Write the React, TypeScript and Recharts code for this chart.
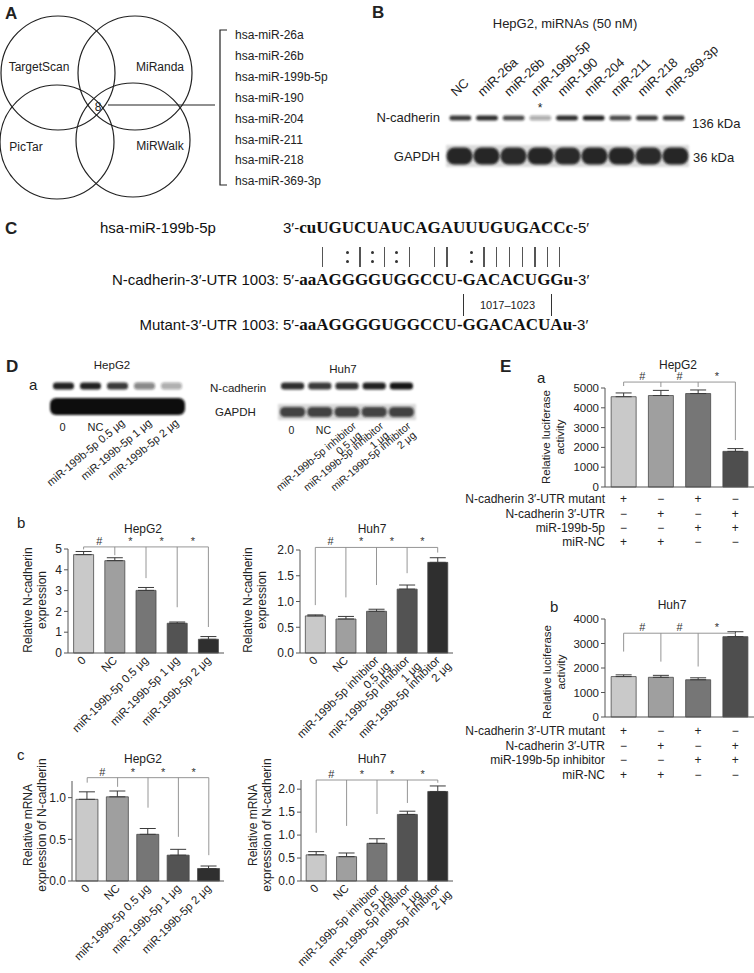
import React from "react";
import { BarChart, Bar, XAxis, YAxis, Cell, ErrorBar, ReferenceLine, ReferenceDot } from "recharts";

const FONT = '"Liberation Sans", Arial, Helvetica, sans-serif';
const SERIF = '"Liberation Serif", "Times New Roman", serif';
const AXIS = "#555";
const LINK = "#8a8a8a";

// A: prediction overlap
const predictionTools = ["TargetScan", "MiRanda", "PicTar", "MiRWalk"];
const sharedCount = "8";
const candidateMirnas = [
  "hsa-miR-26a", "hsa-miR-26b", "hsa-miR-199b-5p", "hsa-miR-190",
  "hsa-miR-204", "hsa-miR-211", "hsa-miR-218", "hsa-miR-369-3p",
];

// B: screening blot (band darkness per lane)
const screenLanes = ["NC", "miR-26a", "miR-26b", "miR-199b-5p", "miR-190", "miR-204", "miR-211", "miR-218", "miR-369-3p"];
const screenNcadBand = [0.85, 0.9, 0.75, 0.35, 0.9, 0.95, 0.75, 0.85, 0.85];
const screenGapdhBand = [0.92, 0.92, 0.9, 0.92, 0.9, 0.92, 0.92, 0.9, 0.92];

// C: sequences
const mirSeq = "cuUGUCUAUCAGAUUUGUGACCc";
const pairMarks = "  | :|:|:| || :||||||| ";
const ncadSeqParts = ["aaAGGGGUGGCCU-", "GACACUG", "Gu"];
const mutantSeq = "aaAGGGGUGGCCU-GGACACUAu";
const seedRange = "1017–1023";

// D: groups
const hepg2Doses = ["0", "NC", "miR-199b-5p 0.5 μg", "miR-199b-5p 1 μg", "miR-199b-5p 2 μg"];
const huh7Doses = ["0", "NC", "miR-199b-5p inhibitor\n0.5 μg", "miR-199b-5p inhibitor\n1 μg", "miR-199b-5p inhibitor\n2 μg"];
const hepg2NcadBand = [0.95, 0.95, 0.85, 0.5, 0.35];
const huh7NcadBand = [0.9, 0.85, 0.88, 0.95, 1];
const huh7GapdhBand = [0.75, 0.75, 0.75, 0.78, 0.75];

const hepg2Protein = [4.73, 4.44, 3.01, 1.43, 0.66];
const hepg2ProteinErr = [0.15, 0.14, 0.14, 0.06, 0.13];
const hepg2ProteinDrops = [4.98, 4.7, 3.6, 2.2, 1.25];
const hepg2ProteinBracket = 5.1;

const huh7Protein = [0.72, 0.66, 0.81, 1.24, 1.76];
const huh7ProteinErr = [0.02, 0.05, 0.04, 0.08, 0.09];
const huh7ProteinDrops = [0.93, 1.08, 1.32, 1.55, 1.95];
const huh7ProteinBracket = 2.05;

const hepg2Mrna = [0.98, 1.01, 0.56, 0.31, 0.15];
const hepg2MrnaErr = [0.09, 0.07, 0.07, 0.07, 0.03];
const hepg2MrnaDrops = [1.18, 1.13, 0.88, 0.53, 0.31];
const hepg2MrnaBracket = 1.24;

const huh7Mrna = [0.57, 0.53, 0.82, 1.45, 1.95];
const huh7MrnaErr = [0.07, 0.08, 0.1, 0.07, 0.12];
const huh7MrnaDrops = [1.05, 1.2, 1.46, 1.7, 2.14];
const huh7MrnaBracket = 2.2;

const doseMarks = ["#", "*", "*", "*"];

// E: luciferase
const lucGroups = ["g1", "g2", "g3", "g4"];
const hepg2Luc = [4560, 4620, 4720, 1800];
const hepg2LucErr = [190, 260, 180, 140];
const hepg2LucDrops = [5100, 5050, 5050, 2370];
const hepg2LucBracket = 5300;
const hepg2LucRows = ["N-cadherin 3′-UTR mutant", "N-cadherin 3′-UTR", "miR-199b-5p", "miR-NC"];

const huh7Luc = [1650, 1620, 1520, 3280];
const huh7LucErr = [70, 80, 80, 200];
const huh7LucDrops = [2670, 2260, 2060, 3350];
const huh7LucBracket = 3420;
const huh7LucRows = ["N-cadherin 3′-UTR mutant", "N-cadherin 3′-UTR", "miR-199b-5p inhibitor", "miR-NC"];

const lucSigns = [
  ["+", "−", "+", "−"],
  ["−", "+", "−", "+"],
  ["−", "−", "+", "+"],
  ["+", "+", "−", "−"],
];
const lucMarks = ["#", "#", "*"];

const greys5 = ["#c9c9c9", "#9f9f9f", "#767676", "#535353", "#2f2f2f"];
const greys4 = ["#c9c9c9", "#9f9f9f", "#767676", "#4e4e4e"];

const toRows = (names: string[], vals: number[], errs: number[]) =>
  names.map((name, i) => ({ name, value: vals[i], err: [0, errs[i]] }));

function SigMark(props: any) {
  const vb = props.viewBox || {};
  return (
    <text x={(vb.x || 0) + props.shift} y={(vb.y || 0) - 2} textAnchor="middle" fontSize={11} fill="#333" fontFamily={FONT}>
      {props.mark}
    </text>
  );
}

function SlantTick(props: any) {
  const { x, y, payload } = props;
  const lines = String(payload.value).split("\n");
  return (
    <g transform={`translate(${x + 3},${y + 8}) rotate(-45)`}>
      <text textAnchor="end" fontSize={11.5} fill="#222" fontFamily={FONT}>
        {lines.map((l, i) => (
          <tspan key={i} x={i ? 4 : 0} y={i * 12}>{l}</tspan>
        ))}
      </text>
    </g>
  );
}

function SignTick(props: any) {
  const { x, y, index, offsets } = props;
  return (
    <g>
      {lucSigns.map((row, r) => (
        <text key={r} x={x} y={y + offsets[r] + 4} textAnchor="middle" fontSize={12} fill="#222" fontFamily={FONT}>
          {row[index]}
        </text>
      ))}
    </g>
  );
}

function SigChart(p: any) {
  const first = p.data[0].name;
  const last = p.data[p.data.length - 1].name;
  return (
    <div style={{ position: "absolute", left: p.left, top: p.top }}>
      <BarChart width={p.width} height={p.height} data={p.data} margin={p.margin} barCategoryGap={p.gap}>
        <XAxis dataKey="name" interval={0} height={p.xHeight} tick={p.tick} tickLine={false} tickSize={0} tickMargin={0} axisLine={{ stroke: AXIS }} />
        <YAxis
          type="number"
          domain={p.domain}
          ticks={p.ticks}
          interval={0}
          width={p.yWidth}
          tickSize={4}
          tickMargin={2}
          tickLine={{ stroke: AXIS }}
          axisLine={{ stroke: AXIS }}
          tick={{ fontSize: p.tickFont || 12, fill: "#222", fontFamily: FONT }}
          tickFormatter={(v: number) => v.toFixed(p.digits)}
        />
        <Bar dataKey="value" isAnimationActive={false} stroke="#4a4a4a" strokeWidth={0.8}>
          {p.data.map((d: any, i: number) => (
            <Cell key={d.name} fill={p.colors[i]} />
          ))}
          <ErrorBar dataKey="err" width={8} stroke="#3a3a3a" strokeWidth={1} isAnimationActive={false} />
        </Bar>
        <ReferenceLine ifOverflow="visible" stroke={LINK} strokeWidth={0.9} segment={[{ x: first, y: p.bracket }, { x: last, y: p.bracket }]} />
        {p.data.map((d: any, i: number) => (
          <ReferenceLine key={"d" + i} ifOverflow="visible" stroke={LINK} strokeWidth={0.9} segment={[{ x: d.name, y: p.bracket }, { x: d.name, y: p.drops[i] }]} />
        ))}
        {p.marks.map((m: string, i: number) => (
          <ReferenceDot key={"m" + i} x={p.data[i + 1].name} y={p.bracket} r={0} fill="none" stroke="none" ifOverflow="visible" label={<SigMark mark={m} shift={-p.half} />} />
        ))}
      </BarChart>
    </div>
  );
}

function BlotRow({ x0, x1, y, h, levels, gap }: any) {
  const w = (x1 - x0) / levels.length;
  return (
    <g filter="url(#soft)">
      {levels.map((k: number, i: number) => (
        <rect key={i} x={x0 + i * w + gap} y={y - h / 2} width={w - 2 * gap} height={h} rx={h / 2.2} fill="#161616" opacity={k} />
      ))}
    </g>
  );
}

const sans15: React.CSSProperties = { fontFamily: FONT, fontSize: 15, fontWeight: 400 };
const serif17: React.CSSProperties = { fontFamily: SERIF, fontSize: 17, fontWeight: 700 };
const SEQ_X = 283;

function PairMark({ m }: { m: string }) {
  const base: React.CSSProperties = { position: "absolute", left: "50%", visibility: "visible" };
  if (m === "|")
    return <span style={{ ...base, top: 1, width: 1.3, height: 20, marginLeft: -0.65, background: "#555" }} />;
  if (m === ":")
    return (
      <>
        <span style={{ ...base, top: 5, width: 3, height: 3, marginLeft: -1.5, borderRadius: 2, background: "#333" }} />
        <span style={{ ...base, top: 14, width: 3, height: 3, marginLeft: -1.5, borderRadius: 2, background: "#333" }} />
      </>
    );
  return null;
}

function SequencePanel() {
  const line: React.CSSProperties = { position: "absolute", whiteSpace: "nowrap", lineHeight: "24px", color: "#111" };
  const label: React.CSSProperties = { ...line, ...sans15, right: 754 - SEQ_X + 4, textAlign: "right" };
  return (
    <>
      <div style={{ ...line, ...sans15, left: 100, top: 216 }}>hsa-miR-199b-5p</div>
      <div style={{ ...line, left: SEQ_X, top: 216 }}>
        <span style={sans15}>3′-</span>
        <span style={serif17}>{mirSeq}</span>
        <span style={sans15}>-5′</span>
      </div>
      <div style={{ ...line, left: SEQ_X, top: 246, lineHeight: "22px", height: 22, visibility: "hidden" }}>
        <span style={sans15}>3′-</span>
        <span style={serif17}>
          {mirSeq.split("").map((ch, i) => (
            <span key={i} style={{ position: "relative", display: "inline-block" }}>
              {ch}
              <PairMark m={pairMarks[i]} />
            </span>
          ))}
        </span>
      </div>
      <div style={{ ...label, top: 268 }}>N-cadherin-3′-UTR 1003:</div>
      <div style={{ ...line, left: SEQ_X, top: 268 }}>
        <span style={sans15}>5′-</span>
        <span style={serif17}>{ncadSeqParts.join("")}</span>
        <span style={sans15}>-3′</span>
      </div>
      <div style={{ ...line, left: SEQ_X, top: 294, lineHeight: "22px", visibility: "hidden" }}>
        <span style={sans15}>5′-</span>
        <span style={serif17}>
          {ncadSeqParts[0]}
          <span style={{ position: "relative", display: "inline-block", height: 22, verticalAlign: "top", borderLeft: "1px solid #333", borderRight: "1px solid #333", visibility: "visible" }}>
            <span style={{ visibility: "hidden" }}>{ncadSeqParts[1]}</span>
            <span style={{ position: "absolute", left: 0, right: 0, top: 0, textAlign: "center", color: "#222", fontFamily: FONT, fontSize: 11, fontWeight: 400 }}>
              {seedRange}
            </span>
          </span>
        </span>
      </div>
      <div style={{ ...label, top: 313 }}>Mutant-3′-UTR 1003:</div>
      <div style={{ ...line, left: SEQ_X, top: 313 }}>
        <span style={sans15}>5′-</span>
        <span style={serif17}>{mutantSeq}</span>
        <span style={sans15}>-3′</span>
      </div>
    </>
  );
}

function YLabel({ x, cy, lines, size = 12 }: { x: number; cy: number; lines: string[]; size?: number }) {
  return (
    <g>
      {lines.map((l, i) => (
        <text key={i} transform={`translate(${x + i * 14},${cy}) rotate(-90)`} textAnchor="middle" dominantBaseline="central" fontSize={size}>
          {l}
        </text>
      ))}
    </g>
  );
}

export default function App() {
  const hepg2ProteinData = toRows(hepg2Doses, hepg2Protein, hepg2ProteinErr);
  const huh7ProteinData = toRows(huh7Doses, huh7Protein, huh7ProteinErr);
  const hepg2MrnaData = toRows(hepg2Doses, hepg2Mrna, hepg2MrnaErr);
  const huh7MrnaData = toRows(huh7Doses, huh7Mrna, huh7MrnaErr);
  const hepg2LucData = toRows(lucGroups, hepg2Luc, hepg2LucErr);
  const huh7LucData = toRows(lucGroups, huh7Luc, huh7LucErr);

  const circles = [
    { cx: 58, cy: 73 },
    { cx: 135, cy: 73 },
    { cx: 57, cy: 142 },
    { cx: 133, cy: 140 },
  ];
  const toolPos = [
    { x: 39, y: 71 },
    { x: 160, y: 71 },
    { x: 26, y: 151 },
    { x: 160, y: 150 },
  ];
  const bLaneW = (687 - 447) / screenLanes.length;
  const lucRowsA = [499, 514, 528, 542];
  const lucRowsB = [731, 746, 760, 775];

  return (
    <div style={{ position: "absolute", left: 0, top: 0, width: 754, height: 973, background: "#fff", overflow: "hidden", fontFamily: FONT, color: "#222" }}>
      <SigChart
        left={0} top={525} width={232} height={215}
        margin={{ top: 24, right: 8, left: 28, bottom: 0 }} yWidth={40} xHeight={87}
        data={hepg2ProteinData} domain={[0, 5]} ticks={[0, 1, 2, 3, 4, 5]} digits={0}
        colors={greys5} gap="18%" bracket={hepg2ProteinBracket} drops={hepg2ProteinDrops}
        marks={doseMarks} half={15.6} tick={<SlantTick />}
      />
      <SigChart
        left={240} top={525} width={220} height={215}
        margin={{ top: 25, right: 7, left: 20, bottom: 0 }} yWidth={40} xHeight={87}
        data={huh7ProteinData} domain={[0, 2]} ticks={[0, 0.5, 1, 1.5, 2]} digits={1}
        colors={greys5} gap="17.5%" bracket={huh7ProteinBracket} drops={huh7ProteinDrops}
        marks={doseMarks} half={15.3} tick={<SlantTick />}
      />
      <SigChart
        left={0} top={760} width={232} height={213}
        margin={{ top: 21, right: 8, left: 32, bottom: 0 }} yWidth={40} xHeight={92}
        data={hepg2MrnaData} domain={[0, 1.2]} ticks={[0, 0.5, 1]} digits={1}
        colors={greys5} gap="13%" bracket={hepg2MrnaBracket} drops={hepg2MrnaDrops}
        marks={doseMarks} half={15.2} tick={<SlantTick />}
      />
      <SigChart
        left={240} top={760} width={220} height={213}
        margin={{ top: 20, right: 7, left: 21, bottom: 0 }} yWidth={40} xHeight={92}
        data={huh7MrnaData} domain={[0, 2.2]} ticks={[0, 0.5, 1, 1.5, 2]} digits={1}
        colors={greys5} gap="17%" bracket={huh7MrnaBracket} drops={huh7MrnaDrops}
        marks={doseMarks} half={15.2} tick={<SlantTick />}
      />
      <SigChart
        left={540} top={360} width={214} height={200}
        margin={{ top: 28, right: 0, left: 15, bottom: 0 }} yWidth={50} xHeight={73} tickFont={11.5}
        data={hepg2LucData} domain={[0, 5000]} ticks={[0, 1000, 2000, 3000, 4000, 5000]} digits={0}
        colors={greys4} gap="16.5%" bracket={hepg2LucBracket} drops={hepg2LucDrops}
        marks={lucMarks} half={18.6} tick={<SignTick offsets={lucRowsA.map((r) => r - 487)} />}
      />
      <SigChart
        left={540} top={595} width={214} height={200}
        margin={{ top: 24, right: 0, left: 15, bottom: 0 }} yWidth={50} xHeight={78} tickFont={11.5}
        data={huh7LucData} domain={[0, 4000]} ticks={[0, 1000, 2000, 3000, 4000]} digits={0}
        colors={greys4} gap="16.5%" bracket={huh7LucBracket} drops={huh7LucDrops}
        marks={lucMarks} half={18.6} tick={<SignTick offsets={lucRowsB.map((r) => r - 717)} />}
      />

      <SequencePanel />

      <svg width={754} height={973} style={{ position: "absolute", left: 0, top: 0, pointerEvents: "none" }} fontFamily={FONT} fill="#222">
        <defs>
          <filter id="soft" x="-10%" y="-60%" width="120%" height="220%">
            <feGaussianBlur stdDeviation="0.9" />
          </filter>
        </defs>

        {/* panel letters */}
        <g fontWeight={700} fontSize={17}>
          <text x={5} y={19}>A</text>
          <text x={372} y={18}>B</text>
          <text x={5} y={234}>C</text>
          <text x={6} y={372}>D</text>
          <text x={500} y={372}>E</text>
        </g>
        <g fontSize={15}>
          <text x={29} y={390}>a</text>
          <text x={17} y={528}>b</text>
          <text x={17} y={760}>c</text>
          <text x={537} y={383}>a</text>
          <text x={550} y={612}>b</text>
        </g>

        {/* A: Venn */}
        <g fill="none" stroke="#222" strokeWidth={1.2}>
          {circles.map((c, i) => (
            <circle key={i} cx={c.cx} cy={c.cy} r={57} />
          ))}
          <line x1={108} y1={105} x2={215} y2={105} />
          <path d="M227,30 H220 V185 H227" />
        </g>
        <g fontSize={12}>
          {predictionTools.map((t, i) => (
            <text key={t} x={toolPos[i].x} y={toolPos[i].y} textAnchor="middle">{t}</text>
          ))}
          <text x={98} y={111} textAnchor="middle">{sharedCount}</text>
          {candidateMirnas.map((m, i) => (
            <text key={m} x={235} y={39 + i * 20.9}>{m}</text>
          ))}
        </g>

        {/* B: screening blot */}
        <text x={565} y={28} textAnchor="middle" fontSize={13}>HepG2, miRNAs (50 nM)</text>
        <g fontSize={13}>
          {screenLanes.map((l, i) => (
            <text key={l} transform={`translate(${447 + bLaneW * i + 9},97) rotate(-43)`}>{l}</text>
          ))}
        </g>
        <text x={540} y={112} textAnchor="middle" fontSize={12}>*</text>
        <text x={440} y={122} textAnchor="end" fontSize={13}>N-cadherin</text>
        <text x={440} y={161} textAnchor="end" fontSize={13}>GAPDH</text>
        <text x={692} y={128} fontSize={13}>136 kDa</text>
        <text x={693} y={162} fontSize={13}>36 kDa</text>
        <rect x={446} y={145} width={243} height={22} fill="#9a9a9a" opacity={0.35} filter="url(#soft)" />
        <BlotRow x0={447} x1={687} y={118} h={5} levels={screenNcadBand} gap={2.5} />
        <BlotRow x0={446} x1={689} y={156} h={17} levels={screenGapdhBand} gap={0.6} />

        {/* D a: blots */}
        <text x={112} y={369} textAnchor="middle" fontSize={11.5}>HepG2</text>
        <text x={343} y={373} textAnchor="middle" fontSize={11.5}>Huh7</text>
        <BlotRow x0={50} x1={185} y={386} h={7} levels={hepg2NcadBand} gap={3} />
        <rect x={50} y={398} width={135} height={17} rx={6} fill="#111" filter="url(#soft)" />
        <text x={210} y={392} fontSize={11.5}>N-cadherin</text>
        <text x={215} y={416} fontSize={11.5}>GAPDH</text>
        <BlotRow x0={279} x1={415} y={386} h={7} levels={huh7NcadBand} gap={2} />
        <rect x={278} y={404} width={138} height={16} fill="#aaa" opacity={0.45} filter="url(#soft)" />
        <BlotRow x0={279} x1={415} y={412} h={10} levels={huh7GapdhBand} gap={1} />
        <g fontSize={11}>
          {hepg2Doses.map((d, i) => {
            const cx = 50 + 27 * i + 13.5;
            return d.length <= 2 ? (
              <text key={d} x={cx - (i ? 3 : 4)} y={431}>{d}</text>
            ) : (
              <text key={d} transform={`translate(${cx + 8},424) rotate(-40)`} textAnchor="end">{d}</text>
            );
          })}
        </g>
        <g fontSize={10.5}>
          {huh7Doses.map((d, i) => {
            const cx = 279 + 27.2 * i + 13.6;
            const lines = d.split("\n");
            return d.length <= 2 ? (
              <text key={d} x={cx - 4} y={434}>{d}</text>
            ) : (
              <text key={d} transform={`translate(${cx + 10},427) rotate(-40)`} textAnchor="end">
                {lines.map((l, j) => (
                  <tspan key={j} x={j ? -2 : 0} y={j * 10.5}>{l}</tspan>
                ))}
              </text>
            );
          })}
        </g>

        {/* D b/c and E titles, axis labels */}
        <g fontSize={12} textAnchor="middle">
          <text x={143} y={533}>HepG2</text>
          <text x={372} y={533}>Huh7</text>
          <text x={143} y={763}>HepG2</text>
          <text x={372} y={763}>Huh7</text>
          <text x={678} y={369}>HepG2</text>
          <text x={672} y={609}>Huh7</text>
        </g>
        <YLabel x={28} cy={600} lines={["Relative N-cadherin", "expression"]} />
        <YLabel x={248} cy={600} lines={["Relative N-cadherin", "expression"]} />
        <YLabel x={28} cy={825} lines={["Relative mRNA", "expression of N-cadherin"]} />
        <YLabel x={253} cy={825} lines={["Relative mRNA", "expression of N-cadherin"]} />
        <YLabel x={546} cy={437} lines={["Relative luciferase", "activity"]} size={11.5} />
        <YLabel x={547} cy={672} lines={["Relative luciferase", "activity"]} size={11.5} />

        {/* E row labels */}
        <g fontSize={12} textAnchor="end">
          {hepg2LucRows.map((r, i) => (
            <text key={r} x={605} y={lucRowsA[i] + 4}>{r}</text>
          ))}
          {huh7LucRows.map((r, i) => (
            <text key={r} x={605} y={lucRowsB[i] + 4}>{r}</text>
          ))}
        </g>
      </svg>
    </div>
  );
}
